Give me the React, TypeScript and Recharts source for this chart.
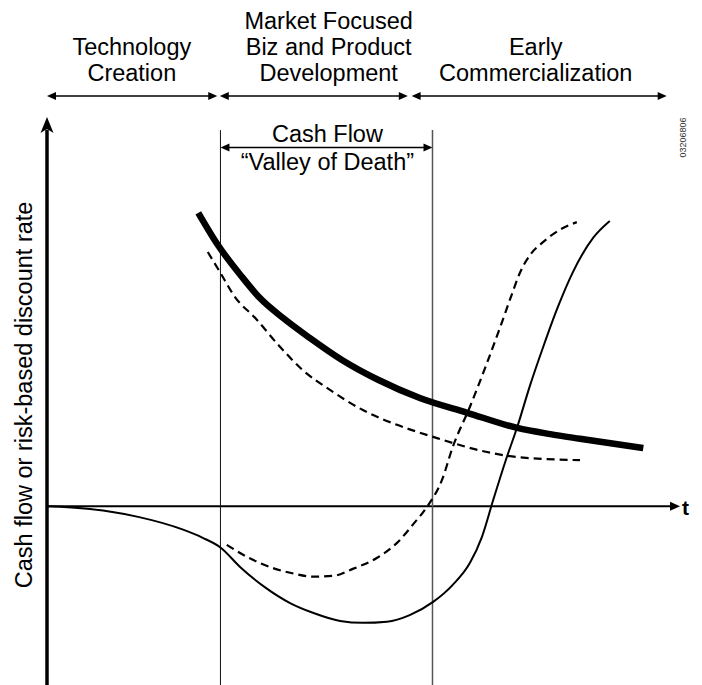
import React from "react";
import { LineChart, Line, XAxis, YAxis, ReferenceLine, ReferenceDot } from "recharts";

const FONT = "'Liberation Sans', Arial, Helvetica, sans-serif";

// phase headers along the top (t units)
const phaseNames = [
  ["Technology", "Creation"],
  ["Market Focused", "Biz and Product", "Development"],
  ["Early", "Commercialization"],
];
const phaseCenters = [13.4, 44.5, 77.2];
const phaseSpans = [
  [0, 26.9],
  [27.3, 57.0],
  [57.6, 97.9],
];
const phaseArrowY = 105.7;
const phaseTextY = 109.6;

// valley of death gates
const gateX = [27.4, 60.9];
const gateTop = 96.9;
const valleyArrowY = 92.4;
const valleyTitle = "Cash Flow";
const valleySubtitle = "\u201cValley of Death\u201d";

const yTitle = "Cash flow or risk-based discount rate";
const figId = "03206806";

// curves
const discountRate = [
  { t: 23.9, v: 75.6 }, { t: 27.0, v: 67.3 }, { t: 30.8, v: 59.1 }, { t: 33.6, v: 53.7 },
  { t: 37.3, v: 48.5 }, { t: 41.5, v: 43.4 }, { t: 46.6, v: 37.7 }, { t: 52.3, v: 32.6 },
  { t: 58.9, v: 27.9 }, { t: 66.4, v: 24.1 }, { t: 74.3, v: 20.2 }, { t: 79.5, v: 18.6 },
  { t: 84.2, v: 17.4 }, { t: 94.2, v: 15.0 },
];
const discountRateLow = [
  { t: 25.4, v: 65.5 }, { t: 27.3, v: 60.4 }, { t: 29.7, v: 53.9 }, { t: 32.9, v: 48.5 },
  { t: 36.8, v: 41.1 }, { t: 40.4, v: 35.1 }, { t: 44.7, v: 30.0 }, { t: 49.9, v: 24.8 },
  { t: 55.3, v: 21.0 }, { t: 61.0, v: 17.9 }, { t: 69.5, v: 14.0 }, { t: 74.3, v: 12.7 },
  { t: 84.2, v: 11.9 },
];
const cashFlow = [
  { t: 0, v: 0 }, { t: 6.8, v: -0.7 }, { t: 14.4, v: -2.7 }, { t: 21.5, v: -6.0 },
  { t: 24.6, v: -8.1 }, { t: 27.5, v: -10.7 }, { t: 30.5, v: -15.6 }, { t: 34.4, v: -20.8 },
  { t: 38.4, v: -24.9 }, { t: 42.0, v: -27.4 }, { t: 46.3, v: -29.5 }, { t: 49.9, v: -30.0 },
  { t: 53.7, v: -29.7 }, { t: 57.3, v: -28.0 }, { t: 61.0, v: -24.6 }, { t: 64.1, v: -20.2 },
  { t: 66.8, v: -14.6 }, { t: 68.7, v: -7.9 }, { t: 70.5, v: 1.7 }, { t: 72.4, v: 11.5 },
  { t: 74.3, v: 20.5 }, { t: 76.3, v: 31.1 }, { t: 78.4, v: 41.1 }, { t: 80.6, v: 50.9 },
  { t: 83.1, v: 60.4 }, { t: 86.3, v: 69.2 }, { t: 88.9, v: 73.5 },
];
const cashFlowEarly = [
  { t: 28.4, v: -9.9 }, { t: 31.6, v: -13.0 }, { t: 35.7, v: -15.9 }, { t: 38.4, v: -17.1 },
  { t: 42.0, v: -18.1 }, { t: 45.2, v: -17.9 }, { t: 48.3, v: -16.1 }, { t: 52.1, v: -13.3 },
  { t: 55.3, v: -9.4 }, { t: 57.8, v: -4.7 }, { t: 60.0, v: -0.2 }, { t: 62.4, v: 6.8 },
  { t: 64.1, v: 15.3 }, { t: 66.8, v: 25.6 }, { t: 69.5, v: 36.9 }, { t: 71.6, v: 46.2 },
  { t: 73.5, v: 54.9 }, { t: 74.7, v: 60.1 }, { t: 76.3, v: 64.7 }, { t: 78.4, v: 68.1 },
  { t: 81.0, v: 71.2 }, { t: 83.7, v: 73.2 },
];

type ArrowOpts = {
  color?: string;
  width?: number;
  len?: number;
  half?: number;
  start?: boolean;
  end?: boolean;
  notch?: number;
};

function arrow(o: ArrowOpts) {
  const { color = "#000", width = 1.5, len = 9, half = 4, start = false, end = true, notch = 0 } = o;
  return (p: any) => {
    const { x1, y1, x2, y2 } = p;
    const L = Math.hypot(x2 - x1, y2 - y1) || 1;
    const ux = (x2 - x1) / L;
    const uy = (y2 - y1) / L;
    const nx = -uy;
    const ny = ux;
    const head = (tx: number, ty: number, dx: number, dy: number) => {
      const bx = tx - dx * len;
      const by = ty - dy * len;
      const ix = tx - dx * len * (1 - notch);
      const iy = ty - dy * len * (1 - notch);
      return (
        <polygon
          points={`${tx},${ty} ${bx + nx * half},${by + ny * half} ${ix},${iy} ${bx - nx * half},${by - ny * half}`}
          fill={color}
        />
      );
    };
    const sx = start ? x1 + ux * len * 0.8 : x1;
    const sy = start ? y1 + uy * len * 0.8 : y1;
    const ex = end ? x2 - ux * len * 0.8 : x2;
    const ey = end ? y2 - uy * len * 0.8 : y2;
    return (
      <g>
        <line x1={sx} y1={sy} x2={ex} y2={ey} stroke={color} strokeWidth={width} />
        {start && head(x1, y1, -ux, -uy)}
        {end && head(x2, y2, ux, uy)}
      </g>
    );
  };
}

function plainLine(color: string, width: number) {
  return (p: any) => <line x1={p.x1} y1={p.y1} x2={p.x2} y2={p.y2} stroke={color} strokeWidth={width} />;
}

function textBlock(lines: string[], size = 23.5, gap = 26) {
  return (p: any) => (
    <text x={p.cx} y={p.cy} textAnchor="middle" fontFamily={FONT} fontSize={size} fill="#000">
      {lines.map((l, i) => (
        <tspan key={i} x={p.cx} dy={i === 0 ? -(lines.length - 1) * gap : gap}>
          {l}
        </tspan>
      ))}
    </text>
  );
}

export default function App() {
  return (
    <div style={{ position: "absolute", left: 0, top: 0, width: 702, height: 685, background: "#fff" }}>
      <LineChart width={702} height={685} margin={{ top: 0, right: 22, bottom: 0, left: 47 }}>
        <XAxis dataKey="t" type="number" domain={[0, 100]} allowDataOverflow hide />
        <YAxis type="number" domain={[-46, 130.4]} allowDataOverflow hide />

        {/* axes */}
        <ReferenceLine
          segment={[{ x: 0, y: -46 }, { x: 0, y: 100.3 }]}
          ifOverflow="visible"
          shape={arrow({ width: 3.5, len: 16, half: 6.5, notch: 0.25 })}
        />
        <ReferenceLine
          segment={[{ x: 0, y: 0 }, { x: 100, y: 0 }]}
          ifOverflow="visible"
          shape={arrow({ width: 2, len: 10, half: 4.5 })}
        />

        {/* gates */}
        <ReferenceLine segment={[{ x: gateX[0], y: -46 }, { x: gateX[0], y: gateTop }]} ifOverflow="visible" shape={plainLine("#111", 1)} />
        <ReferenceLine segment={[{ x: gateX[1], y: -46 }, { x: gateX[1], y: gateTop }]} ifOverflow="visible" shape={plainLine("#555", 1.5)} />
        <ReferenceLine
          segment={[{ x: gateX[0], y: valleyArrowY }, { x: gateX[1], y: valleyArrowY }]}
          ifOverflow="visible"
          shape={arrow({ width: 1.5, len: 9, half: 4, start: true })}
        />

        {/* phase arrows */}
        {phaseSpans.map((s, i) => (
          <ReferenceLine
            key={"ph" + i}
            segment={[{ x: s[0], y: phaseArrowY }, { x: s[1], y: phaseArrowY }]}
            ifOverflow="visible"
            shape={arrow({ width: 1.5, len: 9, half: 4, start: true })}
          />
        ))}
        {phaseNames.map((n, i) => (
          <ReferenceDot key={"pt" + i} x={phaseCenters[i]} y={phaseTextY} ifOverflow="visible" shape={textBlock(n)} />
        ))}

        {/* valley text */}
        <ReferenceDot x={44.3} y={93.9} ifOverflow="visible" shape={textBlock([valleyTitle])} />
        <ReferenceDot x={44.3} y={86.7} ifOverflow="visible" shape={textBlock([valleySubtitle])} />

        {/* axis labels */}
        <ReferenceDot
          x={-2.37}
          y={28.7}
          ifOverflow="visible"
          shape={(p: any) => (
            <text x={p.cx} y={p.cy} transform={`rotate(-90 ${p.cx} ${p.cy})`} textAnchor="middle" fontFamily={FONT} fontSize={23.5} fill="#000">
              {yTitle}
            </text>
          )}
        />
        <ReferenceDot
          x={100}
          y={0}
          ifOverflow="visible"
          shape={(p: any) => (
            <text x={p.cx + 2} y={p.cy + 9} fontFamily={FONT} fontSize={21} fontWeight="bold" fill="#000">
              t
            </text>
          )}
        />
        <ReferenceDot
          x={100.4}
          y={95.0}
          ifOverflow="visible"
          shape={(p: any) => (
            <text x={p.cx} y={p.cy} transform={`rotate(-90 ${p.cx} ${p.cy})`} textAnchor="middle" dominantBaseline="central" fontFamily={FONT} fontSize={9} fill="#333">
              {figId}
            </text>
          )}
        />

        {/* series */}
        <Line data={discountRateLow} dataKey="v" type="monotone" stroke="#000" strokeWidth={2.2} strokeDasharray="8 5" dot={false} activeDot={false} isAnimationActive={false} />
        <Line data={cashFlowEarly} dataKey="v" type="monotone" stroke="#000" strokeWidth={2.2} strokeDasharray="8 5" dot={false} activeDot={false} isAnimationActive={false} />
        <Line data={cashFlow} dataKey="v" type="monotone" stroke="#000" strokeWidth={2} dot={false} activeDot={false} isAnimationActive={false} />
        <Line data={discountRate} dataKey="v" type="monotone" stroke="#000" strokeWidth={6.5} strokeLinecap="butt" dot={false} activeDot={false} isAnimationActive={false} />
      </LineChart>
    </div>
  );
}
